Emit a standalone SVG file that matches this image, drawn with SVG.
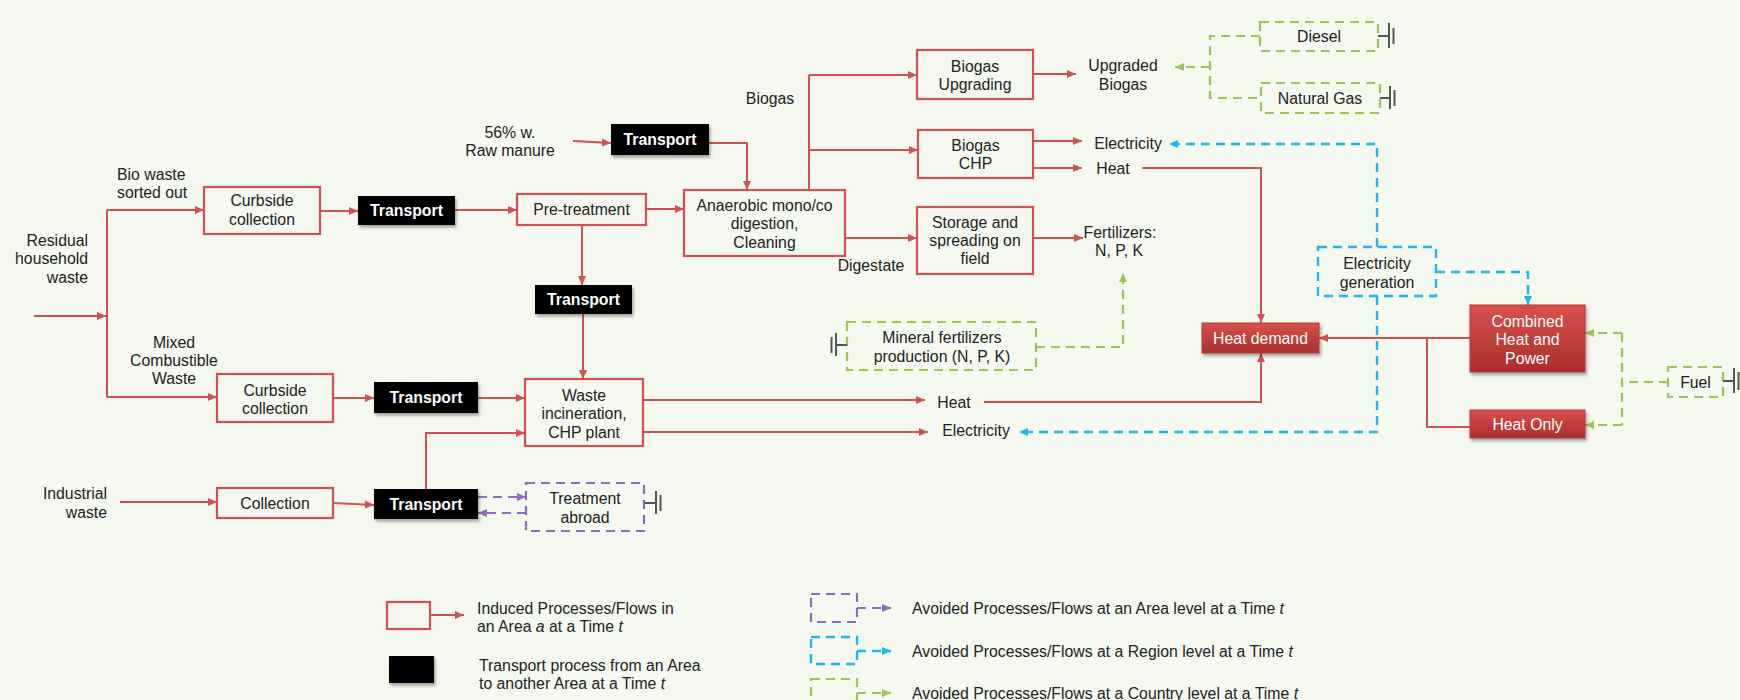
<svg xmlns="http://www.w3.org/2000/svg" width="1740" height="700" viewBox="0 0 1740 700">
<defs>
<style>
text{font-family:"Liberation Sans",Arial,sans-serif;font-size:15.8px;fill:#222}
.c{text-anchor:middle}
.e{text-anchor:end}
.w{fill:#fff}
.tb{fill:#fff;font-weight:bold;text-anchor:middle}
.box{fill:none;stroke:#CF5250;stroke-width:2.2}
.blk{fill:#000;filter:url(#sh)}
.red{fill:url(#rg);stroke:#B33A37;stroke-width:1;filter:url(#sh)}
.rl{fill:none;stroke:#CF5250;stroke-width:2;marker-end:url(#ar)}
.rn{fill:none;stroke:#CF5250;stroke-width:2}
.gd{fill:none;stroke:#9DC35A;stroke-width:2.2;stroke-dasharray:9,6}
.gl{fill:none;stroke:#9DC35A;stroke-width:2.2;stroke-dasharray:9,6;marker-end:url(#ag)}
.bd{fill:none;stroke:#1EB6EE;stroke-width:2.4;stroke-dasharray:9,6}
.bl{fill:none;stroke:#1EB6EE;stroke-width:2.4;stroke-dasharray:9,6;marker-end:url(#ab)}
.pd{fill:none;stroke:#8E6CB8;stroke-width:2.2;stroke-dasharray:9,6}
.pl{fill:none;stroke:#8E6CB8;stroke-width:2.2;stroke-dasharray:9,6;marker-end:url(#ap)}
.gnd{fill:none;stroke:#555;stroke-width:2}
</style>
<linearGradient id="rg" x1="0" y1="0" x2="0" y2="1">
<stop offset="0" stop-color="#D8504C"/>
<stop offset="1" stop-color="#A9302D"/>
</linearGradient>
<filter id="sh" x="-10%" y="-20%" width="130%" height="160%">
<feDropShadow dx="1.5" dy="2.5" stdDeviation="1.5" flood-color="#000" flood-opacity="0.35"/>
</filter>
<marker id="ar" markerWidth="10" markerHeight="10" refX="9" refY="5" orient="auto" markerUnits="userSpaceOnUse"><path d="M0,1 L9,5 L0,9 Z" fill="#CF5250"/></marker>
<marker id="ag" markerWidth="10" markerHeight="10" refX="9" refY="5" orient="auto" markerUnits="userSpaceOnUse"><path d="M0,1 L9,5 L0,9 Z" fill="#9DC35A"/></marker>
<marker id="ab" markerWidth="10" markerHeight="10" refX="9" refY="5" orient="auto" markerUnits="userSpaceOnUse"><path d="M0,1 L9,5 L0,9 Z" fill="#1EB6EE"/></marker>
<marker id="ap" markerWidth="10" markerHeight="10" refX="9" refY="5" orient="auto" markerUnits="userSpaceOnUse"><path d="M0,1 L9,5 L0,9 Z" fill="#8E6CB8"/></marker>
</defs>
<rect width="1740" height="700" fill="#F5F8EE"/>

<g id="connectors">
<path class="rl" d="M34,316 H106"/>
<path class="rn" d="M107,210 V397"/>
<path class="rl" d="M107,210 H204"/>
<path class="rl" d="M107,397 H217"/>
<path class="rl" d="M320,211 H358"/>
<path class="rl" d="M455,210 H517"/>
<path class="rl" d="M582,225 V285"/>
<path class="rl" d="M583,314 V379"/>
<path class="rl" d="M646,209 H684"/>
<path class="rl" d="M573,141 L611,143"/>
<path class="rl" d="M709,143 H747 V190"/>
<path class="rn" d="M809,190 V75"/>
<path class="rl" d="M809,75 H917"/>
<path class="rl" d="M809,150 H918"/>
<path class="rl" d="M845,238 H917"/>
<path class="rl" d="M1033,74 H1076"/>
<path class="rl" d="M1033,141 H1082"/>
<path class="rl" d="M1033,168 H1082"/>
<path class="rl" d="M1142,168 H1261 V323"/>
<path class="rl" d="M1033,238 H1083"/>
<path class="rl" d="M333,398 H374"/>
<path class="rl" d="M478,398 H525"/>
<path class="rl" d="M120,502 H217"/>
<path class="rl" d="M333,503 L374,505"/>
<path class="rl" d="M426,489 V433 H525"/>
<path class="rl" d="M643,400 H925"/>
<path class="rl" d="M643,432 H928"/>
<path class="rl" d="M984,402 H1261 V353"/>
<path class="rl" d="M1470,338 H1319"/>
<path class="rn" d="M1470,427 H1427 V338"/>
<path class="pl" d="M478,497 H526"/>
<path class="pl" d="M526,513 H478"/>
<path class="gd" d="M1260,36 H1210 V98 H1261"/>
<path class="gl" d="M1210,67 H1175"/>
<path class="gl" d="M1036,347 H1123 V273"/>
<path class="gd" d="M1668,382 H1622"/>
<path class="gd" d="M1622,333 V425"/>
<path class="gl" d="M1622,333 H1585"/>
<path class="gl" d="M1622,425 H1585"/>
<path class="bl" d="M1377,247 V144 H1169"/>
<path class="bl" d="M1436,272 H1528 V305"/>
<path class="bl" d="M1377,296 V432 H1019"/>
</g>

<g id="n-residual"><text class="e" x="88" y="245.5">Residual</text><text class="e" x="88" y="264">household</text><text class="e" x="88" y="282.5">waste</text></g>
<g id="n-biowaste"><text x="117" y="179.5">Bio waste</text><text x="117" y="197.5">sorted out</text></g>
<g id="n-mixed"><text class="c" x="174" y="347.5">Mixed</text><text class="c" x="174" y="365.5">Combustible</text><text class="c" x="174" y="383.5">Waste</text></g>
<g id="n-industrial"><text class="e" x="107" y="498.5">Industrial</text><text class="e" x="107" y="517.5">waste</text></g>
<g id="n-manure"><text class="c" x="510" y="137.5">56% w.</text><text class="c" x="510" y="155.5">Raw manure</text></g>

<g id="n-cc1"><rect class="box" x="204" y="187" width="116" height="47"/><text class="c" x="262" y="206">Curbside</text><text class="c" x="262" y="224.5">collection</text></g>
<g id="n-t1"><rect class="blk" x="358" y="196" width="97" height="29"/><text class="tb" x="406.5" y="216">Transport</text></g>
<g id="n-pre"><rect class="box" x="517" y="194" width="129" height="31"/><text class="c" x="581.5" y="215">Pre-treatment</text></g>
<g id="n-t2"><rect class="blk" x="535" y="285" width="97" height="29"/><text class="tb" x="583.5" y="305">Transport</text></g>
<g id="n-tm"><rect class="blk" x="611" y="124" width="98" height="31"/><text class="tb" x="660" y="145">Transport</text></g>
<g id="n-anaerobic"><rect class="box" x="684" y="190" width="161" height="66"/><text class="c" x="764.5" y="210.5">Anaerobic mono/co</text><text class="c" x="764.5" y="229">digestion,</text><text class="c" x="764.5" y="247.5">Cleaning</text></g>
<g id="n-biogaslbl"><text class="c" x="770" y="103.5">Biogas</text></g>
<g id="n-digestate"><text class="c" x="871" y="270.5">Digestate</text></g>
<g id="n-upgrading"><rect class="box" x="917" y="50" width="116" height="49"/><text class="c" x="975" y="71.5">Biogas</text><text class="c" x="975" y="89.5">Upgrading</text></g>
<g id="n-biogaschp"><rect class="box" x="918" y="130" width="115" height="48"/><text class="c" x="975.5" y="150.5">Biogas</text><text class="c" x="975.5" y="168.5">CHP</text></g>
<g id="n-storage"><rect class="box" x="917" y="207" width="116" height="67"/><text class="c" x="975" y="227.5">Storage and</text><text class="c" x="975" y="245.5">spreading on</text><text class="c" x="975" y="263.5">field</text></g>
<g id="n-upgraded"><text class="c" x="1123" y="70.5">Upgraded</text><text class="c" x="1123" y="89.5">Biogas</text></g>
<g id="n-elec1"><text class="c" x="1128" y="148.5">Electricity</text></g>
<g id="n-heat1"><text class="c" x="1113" y="173.5">Heat</text></g>
<g id="n-fert"><text class="c" x="1120" y="237.5">Fertilizers:</text><text class="c" x="1119" y="255.5">N, P, K</text></g>
<g id="n-diesel"><rect class="gd" x="1260" y="22" width="118" height="29"/><text class="c" x="1319" y="41.5">Diesel</text><path class="gnd" d="M1378,36 H1389 M1389,23 V48 M1393.5,28 V44"/></g>
<g id="n-natgas"><rect class="gd" x="1261" y="83" width="119" height="30"/><text class="c" x="1320" y="103.5">Natural Gas</text><path class="gnd" d="M1380,98 H1390 M1390,86 V109 M1394.5,90 V106"/></g>
<g id="n-mineral"><rect class="gd" x="847" y="322" width="189" height="48"/><text class="c" x="942" y="342.5">Mineral fertilizers</text><text class="c" x="942" y="361.5">production (N, P, K)</text><path class="gnd" d="M847,345 H836 M836,333 V356 M831.5,337 V353"/></g>
<g id="n-elecgen"><rect class="bd" x="1318" y="247" width="118" height="49"/><text class="c" x="1377" y="268.5">Electricity</text><text class="c" x="1377" y="287.5">generation</text></g>
<g id="n-heatdemand"><rect class="red" x="1202" y="323" width="117" height="30"/><text class="c w" x="1260.5" y="343.5">Heat demand</text></g>
<g id="n-chp"><rect class="red" x="1470" y="305" width="115" height="67"/><text class="c w" x="1527.5" y="326.5">Combined</text><text class="c w" x="1527.5" y="345">Heat and</text><text class="c w" x="1527.5" y="363.5">Power</text></g>
<g id="n-heatonly"><rect class="red" x="1470" y="410" width="115" height="28"/><text class="c w" x="1527.5" y="429.5">Heat Only</text></g>
<g id="n-fuel"><rect class="gd" x="1668" y="367" width="55" height="30"/><text class="c" x="1695.5" y="387.5">Fuel</text><path class="gnd" d="M1723,381 H1734 M1734,368 V393 M1738.5,372 V390"/></g>
<g id="n-cc2"><rect class="box" x="217" y="374" width="116" height="48"/><text class="c" x="275" y="395.5">Curbside</text><text class="c" x="275" y="413.5">collection</text></g>
<g id="n-t3"><rect class="blk" x="374" y="382" width="104" height="31"/><text class="tb" x="426" y="403">Transport</text></g>
<g id="n-waste"><rect class="box" x="525" y="379" width="118" height="67"/><text class="c" x="584" y="400.5">Waste</text><text class="c" x="584" y="418.5">incineration,</text><text class="c" x="584" y="437.5">CHP plant</text></g>
<g id="n-heat2"><text class="c" x="954" y="407.5">Heat</text></g>
<g id="n-elec2"><text class="c" x="976" y="435.5">Electricity</text></g>
<g id="n-collection"><rect class="box" x="217" y="488" width="116" height="30"/><text class="c" x="275" y="508.5">Collection</text></g>
<g id="n-t4"><rect class="blk" x="374" y="489" width="104" height="30"/><text class="tb" x="426" y="509.5">Transport</text></g>
<g id="n-treatment"><rect class="pd" x="526" y="483" width="118" height="48"/><text class="c" x="585" y="503.5">Treatment</text><text class="c" x="585" y="522.5">abroad</text><path class="gnd" d="M644,503 H656 M656,491 V514 M660.5,495 V511"/></g>

<g id="legend">
<rect class="box" x="387" y="602" width="43" height="27"/>
<path class="rl" d="M430,615 H464"/>
<text x="477" y="613.5">Induced Processes/Flows in</text>
<text x="477" y="631.5">an Area <tspan font-style="italic">a</tspan> at a Time <tspan font-style="italic">t</tspan></text>
<rect class="blk" x="389" y="656" width="45" height="27"/>
<text x="479" y="670.5">Transport process from an Area</text>
<text x="479" y="688.5">to another Area at a Time <tspan font-style="italic">t</tspan></text>
<rect class="pd" x="811" y="594" width="46" height="28"/>
<path class="pl" d="M857,608 H891"/>
<text x="912" y="613.5">Avoided Processes/Flows at an Area level at a Time <tspan font-style="italic">t</tspan></text>
<rect class="bd" x="811" y="637" width="46" height="27"/>
<path class="bl" d="M857,651 H891"/>
<text x="912" y="656.5">Avoided Processes/Flows at a Region level at a Time <tspan font-style="italic">t</tspan></text>
<rect class="gd" x="811" y="679" width="46" height="30"/>
<path class="gl" d="M857,693 H891"/>
<text x="912" y="698.5">Avoided Processes/Flows at a Country level at a Time <tspan font-style="italic">t</tspan></text>
</g>
</svg>
